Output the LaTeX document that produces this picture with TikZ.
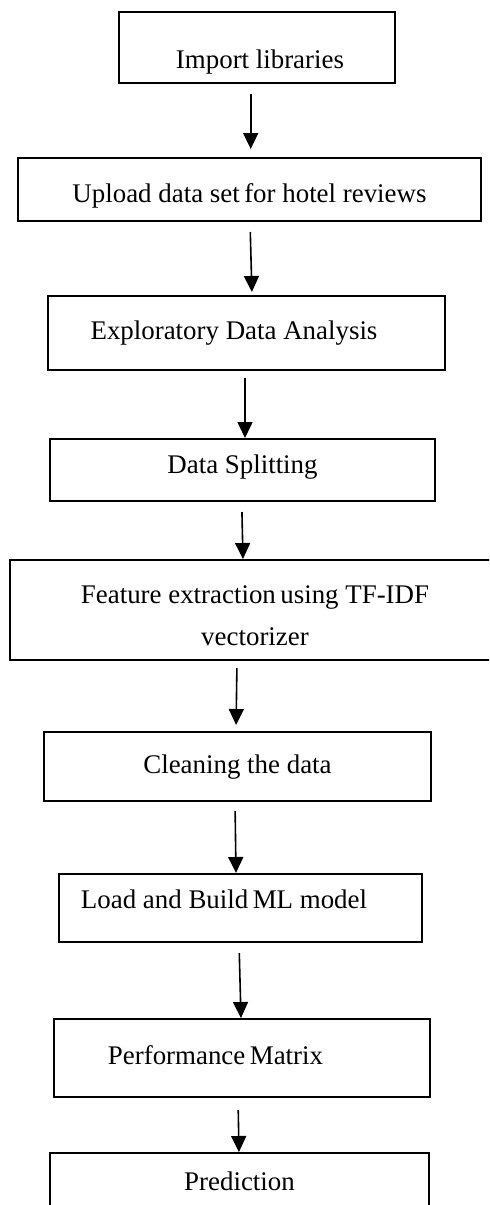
\documentclass[tikz,border=0pt]{standalone}
\usepackage{fontspec}
\setmainfont{Liberation Serif}
\usetikzlibrary{arrows.meta, positioning}

\begin{document}
\begin{tikzpicture}[
    >={Triangle[width=7.5pt, length=8pt]},
    every node/.style={font=\fontsize{13.45}{21}\selectfont},
    stage/.style={draw, line width=0.8pt, align=center, inner sep=0pt, outer sep=0pt,
                  text height=9.5pt, text depth=3pt},
    flow/.style={->, line width=0.8pt, shorten <=5.5pt, shorten >=0.5pt},
]
\useasboundingbox (0,0) rectangle (244.5pt,-602.5pt);
\clip (0,0) rectangle (244.5pt,-602.5pt);
\node[stage, minimum width=138pt, minimum height=35.5pt, text height=24pt]
      (imp) at (128.5pt,-23.75pt) {\hspace*{3pt}Import libraries};
\node[stage, minimum width=231.5pt, minimum height=31.5pt, text height=16pt,
      below=37.5pt of imp, xshift=-3.75pt] (upl) {Upload data set\,for hotel reviews};
\node[stage, minimum width=198.5pt, minimum height=37pt,
      below=37.5pt of upl, xshift=-1.5pt] (eda) {Exploratory Data Analysis\hspace*{12.5pt}};
\node[stage, minimum width=192.5pt, minimum height=31pt, text depth=6pt,
      below=34.5pt of eda, xshift=-2pt] (split) {Data Splitting};
\node[stage, minimum width=245pt, minimum height=50pt, text height=38pt, text depth=3pt,
      below=29.5pt of split, xshift=6.25pt] (feat) {Feature extraction\,using TF-IDF\\ vectorizer};
\node[stage, minimum width=193.5pt, minimum height=34.5pt,
      below=36pt of feat, xshift=-8.75pt] (clean) {Cleaning the data};
\node[stage, minimum width=181.5pt, minimum height=34pt, text depth=9pt,
      below=36.5pt of clean, xshift=1.5pt] (build) {Load and Build\,ML model\hspace*{16.5pt}};
\node[stage, minimum width=188pt, minimum height=39pt,
      below=38.5pt of build, xshift=0.75pt] (perf) {Performance\,Matrix\hspace*{26.5pt}};
\node[stage, minimum width=189.5pt, minimum height=31pt,
      below=28pt of perf, xshift=-1.25pt] (pred) {Prediction};
% one step leads to the next
\draw[flow, shorten >=4.5pt] ([xshift=-3.15pt]imp.south) -- ([xshift=0.6pt]upl.north);
\draw[flow, shorten >=2pt]   ([xshift=0.25pt]upl.south) -- ([xshift=2.75pt]eda.north);
\draw[flow, shorten <=4pt]   ([xshift=-0.75pt]eda.south) -- ([xshift=1.25pt]split.north);
\draw[flow] ([xshift=-0.4pt]split.south) -- ([xshift=-6pt]feat.north);
\draw[flow, shorten <=4pt, shorten >=3.5pt] ([xshift=-9pt]feat.south) -- ([xshift=-0.75pt]clean.north);
\draw[flow, shorten <=5pt]   ([xshift=-1.25pt]clean.south) -- ([xshift=-2.25pt]build.north);
\draw[flow] ([xshift=-0.75pt]build.south) -- ([xshift=-0.5pt]perf.north);
\draw[flow, shorten <=6.5pt] ([xshift=-2pt]perf.south) -- ([xshift=-0.25pt]pred.north);
\end{tikzpicture}
\end{document}
